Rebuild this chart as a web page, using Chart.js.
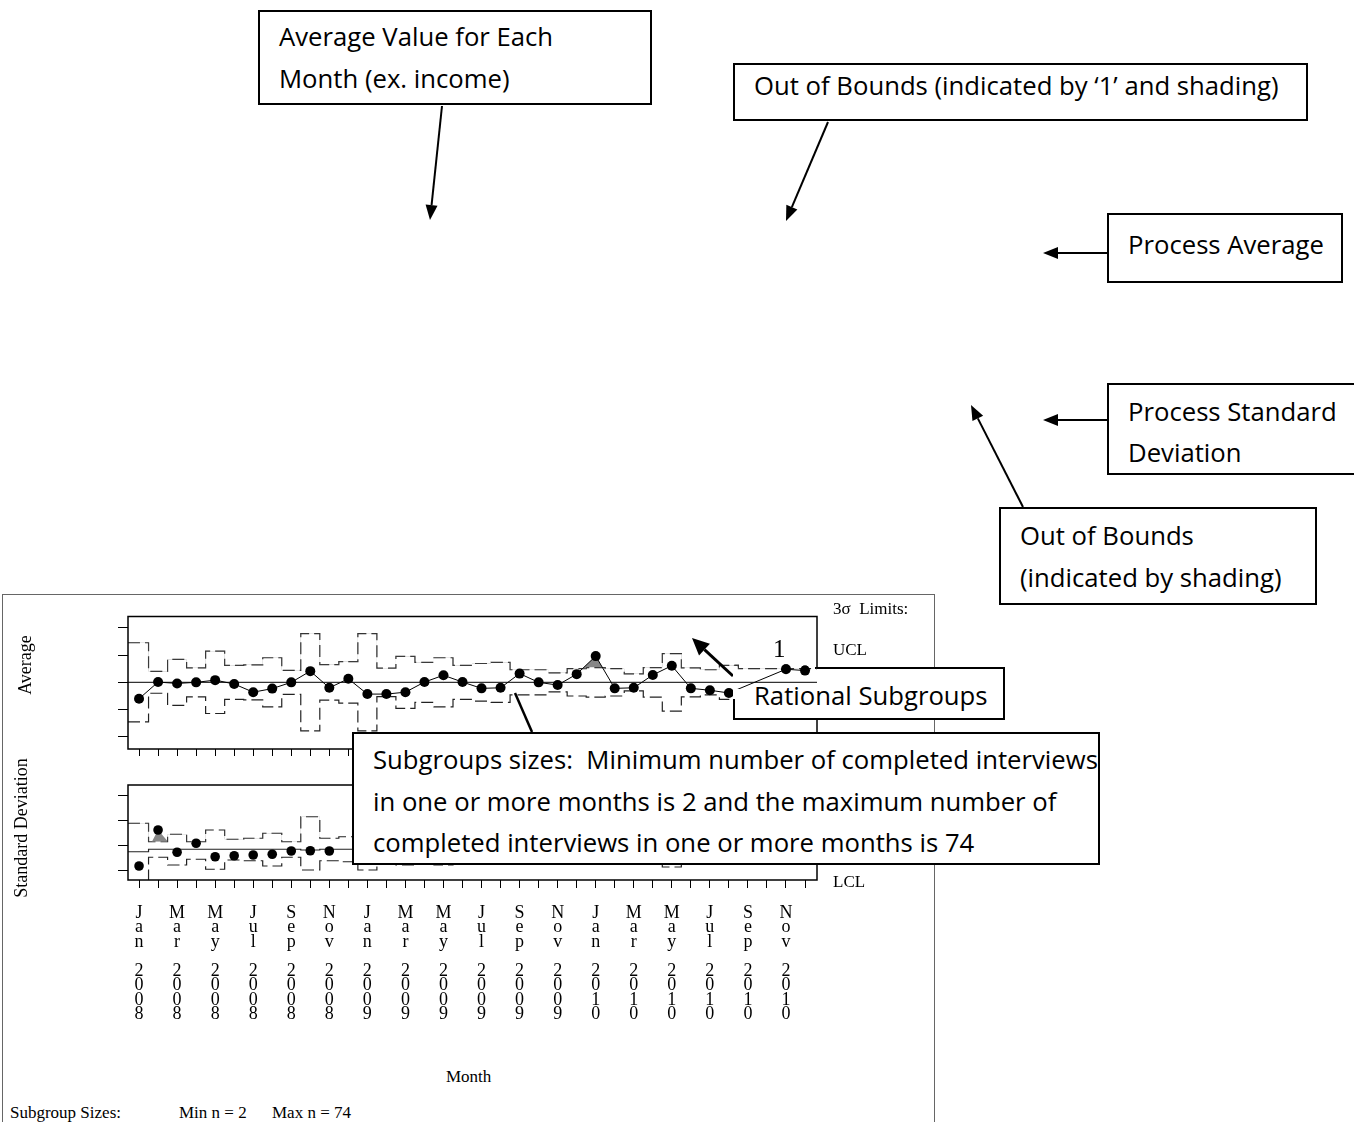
<!DOCTYPE html>
<html>
<head>
<meta charset="utf-8">
<title>Average and standard deviation control chart</title>
<script src="https://cdn.jsdelivr.net/npm/chart.js@4.4.1/dist/chart.umd.min.js"></script>
<style>
  html, body { margin: 0; padding: 0; background: #fff; }
  #page { position: relative; width: 1354px; height: 1122px; overflow: hidden; background: #fff; }
  canvas { position: absolute; }
  .serif { position: absolute; font-family: "Liberation Serif", "Times New Roman", serif; font-size: 17px; color: #000; white-space: pre; transform: translateY(-50%); }
  .vert { position: absolute; font-family: "Liberation Serif", "Times New Roman", serif; font-size: 18px; color: #000; white-space: nowrap; transform: translate(-50%, -50%) rotate(-90deg); }
  .note { position: absolute; box-sizing: border-box; border: 2px solid #000; background: #fff; font-family: "Open Sans", sans-serif; font-size: 25.7px; line-height: 42px; padding-left: 19px; white-space: pre; color: #000; z-index: 3; }
  .edge { position: absolute; background: #000; z-index: 4; }
  #frame { position: absolute; left: 2px; top: 594px; width: 933px; height: 700px; border: 1.5px solid #666; box-sizing: border-box; }
  #arrows { position: absolute; left: 0; top: 0; z-index: 2; }
</style>
</head>
<body>
<div id="page">
  <div id="frame"></div>
  <canvas id="avgChart" width="940" height="165" style="left:0px;top:600px;"></canvas>
  <canvas id="sdChart" width="940" height="270" style="left:0px;top:770px;"></canvas>

  <div class="vert" style="left:25px;top:665px;">Average</div>
  <div class="vert" style="left:21px;top:828px;">Standard Deviation</div>
  <div class="serif" style="left:833px;top:609px;">3σ  Limits:</div>
  <div class="serif" style="left:833px;top:650px;">UCL</div>
  <div class="serif" style="left:833px;top:882px;">LCL</div>
  <div class="serif" style="left:446px;top:1077px;">Month</div>
  <div class="serif" style="left:10px;top:1113px;">Subgroup Sizes:</div>
  <div class="serif" style="left:179px;top:1113px;">Min n = 2</div>
  <div class="serif" style="left:272px;top:1113px;">Max n = 74</div>
  <div class="serif" style="left:773px;top:649px;font-size:25px;">1</div>

  <svg id="arrows" width="1354" height="1122"></svg>

  <div class="note" style="left:258px;top:10px;width:394px;height:95px;padding-top:4px;">Average Value for Each
Month (ex. income)</div>
  <div class="note" style="left:733px;top:63px;width:575px;height:58px;padding-top:0px;">Out of Bounds (indicated by ‘1’ and shading)</div>
  <div class="note" style="left:1107px;top:213px;width:236px;height:70px;padding-top:9px;">Process Average</div>
  <div class="note" style="left:1107px;top:383px;width:252px;height:92px;padding-top:6px;line-height:41px;">Process Standard
Deviation</div>
  <div class="note" style="left:999px;top:507px;width:318px;height:98px;padding-top:6px;">Out of Bounds
(indicated by shading)</div>
  <div class="note" style="left:733px;top:667px;width:272px;height:53px;padding-top:8px;padding-left:21px;border-top:none;border-left:none;">Rational Subgroups</div>
  <div class="edge" style="left:815px;top:667px;width:190px;height:2px;"></div>
  <div class="edge" style="left:733px;top:699px;width:2px;height:21px;"></div>
  <div class="note" style="left:352px;top:732px;width:748px;height:133px;padding-top:5px;line-height:41.5px;">Subgroups sizes:  Minimum number of completed interviews
in one or more months is 2 and the maximum number of
completed interviews in one or more months is 74</div>

  <!-- same average chart again, only the strip that shows above the Rational Subgroups box -->
  <canvas id="avgOverlay" width="940" height="165" style="left:0px;top:600px;z-index:4;clip-path:inset(55px 123px 76px 733px);"></canvas>
</div>

<script>
// months Jan 2008 .. Dec 2010
const months = [
  'Jan 2008', 'Feb 2008', 'Mar 2008', 'Apr 2008', 'May 2008', 'Jun 2008',
  'Jul 2008', 'Aug 2008', 'Sep 2008', 'Oct 2008', 'Nov 2008', 'Dec 2008',
  'Jan 2009', 'Feb 2009', 'Mar 2009', 'Apr 2009', 'May 2009', 'Jun 2009',
  'Jul 2009', 'Aug 2009', 'Sep 2009', 'Oct 2009', 'Nov 2009', 'Dec 2009',
  'Jan 2010', 'Feb 2010', 'Mar 2010', 'Apr 2010', 'May 2010', 'Jun 2010',
  'Jul 2010', 'Aug 2010', 'Sep 2010', 'Oct 2010', 'Nov 2010', 'Dec 2010'
];

// average chart (units relative to the process average)
const avgValues = [
  -0.60, 0.01, -0.04, 0.00, 0.08, -0.06, -0.36, -0.23, 0.00, 0.41, -0.20, 0.13,
  -0.43, -0.43, -0.36, 0.01, 0.26, 0.01, -0.22, -0.20, 0.32, 0.00, -0.10, 0.30,
  0.96, -0.22, -0.20, 0.27, 0.61, -0.22, -0.29, -0.39, null, null, 0.48, 0.43
];
const avgUcl = [
  1.45, 0.40, 0.84, 0.53, 1.14, 0.62, 0.64, 0.90, 0.44, 1.78, 0.65, 0.76,
  1.78, 0.52, 0.95, 0.73, 0.90, 0.62, 0.69, 0.73, 0.46, 0.46, 0.35, 0.50,
  0.54, 0.50, 0.31, 0.54, 1.05, 0.53, 0.46, 0.62, 0.50, 0.50, 0.50, 0.50
];
const avgLcl = [
  -1.45, -0.40, -0.84, -0.53, -1.14, -0.62, -0.64, -0.90, -0.44, -1.78, -0.65, -0.76,
  -1.78, -0.52, -0.95, -0.73, -0.90, -0.62, -0.69, -0.73, -0.46, -0.46, -0.35, -0.50,
  -0.54, -0.50, -0.31, -0.54, -1.05, -0.53, -0.46, -0.62, -0.50, -0.50, -0.50, -0.50
];
const avgCenter = 0;
const avgTicks = [-2, -1, 0, 1, 2];

// standard deviation chart
const sdValues = [
  1.16, 2.60, 1.71, 2.07, 1.53, 1.57, 1.60, 1.63, 1.76, 1.77, 1.76, null,
  1.60, 1.85, 1.70, 1.95, 1.80, 1.75, 1.90, 1.85, 1.80, 1.70, 1.90, 1.85,
  2.00, 1.75, 1.80, 1.90, 1.65, 1.80, 1.75, 1.85, null, null, 1.80, 1.85
];
const sdUcl = [
  2.87, 2.13, 2.43, 2.13, 2.60, 2.23, 2.27, 2.47, 2.13, 3.13, 2.27, 2.33,
  3.13, 2.20, 2.45, 2.35, 2.45, 2.27, 2.30, 2.35, 2.18, 2.15, 2.10, 2.20,
  2.20, 2.20, 2.10, 2.20, 2.55, 2.20, 2.15, 2.25, 2.18, 2.18, 2.18, 2.18
];
const sdLcl = [
  0.00, 1.51, 1.20, 1.43, 1.03, 1.40, 1.37, 1.16, 1.51, 1.00, 1.37, 1.33,
  1.00, 1.45, 1.20, 1.30, 1.20, 1.38, 1.35, 1.30, 1.47, 1.50, 1.55, 1.45,
  1.45, 1.45, 1.55, 1.45, 1.12, 1.45, 1.50, 1.40, 1.47, 1.47, 1.47, 1.47
];
const sdCenter = [
  1.73, 1.83, 1.83, 1.83, 1.83, 1.83, 1.83, 1.83, 1.83, 1.80, 1.83, 1.83,
  1.80, 1.83, 1.83, 1.83, 1.83, 1.83, 1.83, 1.83, 1.83, 1.83, 1.83, 1.83,
  1.83, 1.83, 1.83, 1.83, 1.83, 1.83, 1.83, 1.83, 1.83, 1.83, 1.83, 1.83
];
const sdTicks = [1, 2, 3, 4];

const X_MIN = -0.58, X_MAX = 35.63;
const SHADE = 'rgb(135,135,135)';
const LIMIT_DASH = [12, 5];

function points(arr) {
  return arr.map((v, i) => ({x: i, y: v}));
}

// step line stretched to both edges of the plot
function stepPoints(arr) {
  return [{x: X_MIN, y: arr[0]}].concat(points(arr), [{x: X_MAX, y: arr[arr.length - 1]}]);
}

function monthLabel(value) {
  if (value % 2 !== 0) return '';
  const parts = months[value].split(' ');
  return parts[0].split('').concat([''], parts[1].split(''));
}

const framePlugin = {
  id: 'frame',
  afterDraw(chart) {
    const a = chart.chartArea;
    const ctx = chart.ctx;
    ctx.save();
    ctx.strokeStyle = '#000';
    ctx.lineWidth = 1.5;
    ctx.strokeRect(a.left, a.top, a.right - a.left, a.bottom - a.top);
    ctx.restore();
  }
};

function xScale(showLabels, tickLength, height) {
  return {
    type: 'linear',
    min: X_MIN,
    max: X_MAX,
    afterBuildTicks: (s) => { s.ticks = months.map((m, i) => ({value: i})); },
    afterFit: (s) => { s.height = height; },
    grid: {drawOnChartArea: false, drawTicks: true, tickLength: tickLength, color: '#000', lineWidth: 1},
    border: {display: false},
    ticks: {
      display: showLabels,
      autoSkip: false,
      maxRotation: 0,
      minRotation: 0,
      padding: 18,
      color: '#000',
      font: {family: '"Liberation Serif", "Times New Roman", serif', size: 18, lineHeight: '14.5px'},
      callback: (value) => monthLabel(value)
    }
  };
}

function yScale(min, max, tickValues) {
  return {
    min: min,
    max: max,
    afterBuildTicks: (s) => { s.ticks = tickValues.map(v => ({value: v})); },
    afterFit: (s) => { s.width = 10; },
    grid: {drawOnChartArea: false, drawTicks: true, tickLength: 10, color: '#000', lineWidth: 1},
    border: {display: false},
    ticks: {display: false}
  };
}

function limitSet(arr) {
  return {
    data: stepPoints(arr),
    stepped: 'middle',
    borderColor: '#222',
    borderWidth: 1.2,
    borderDash: LIMIT_DASH,
    pointRadius: 0,
    fill: false
  };
}

const baseOptions = {
  responsive: false,
  animation: false,
  devicePixelRatio: 1,
  events: [],
  plugins: {legend: {display: false}, tooltip: {enabled: false}}
};

function avgConfig(withFrame) {
  return {
    type: 'line',
    data: {
      datasets: [
        {
          data: points(avgValues),
          borderColor: '#000',
          borderWidth: 1,
          pointRadius: 5,
          pointBorderWidth: 0,
          pointBackgroundColor: '#000',
          spanGaps: true,
          fill: {target: 1, above: SHADE, below: 'rgba(0,0,0,0)'}
        },
        limitSet(avgUcl),
        limitSet(avgLcl),
        {
          data: [{x: X_MIN, y: avgCenter}, {x: X_MAX, y: avgCenter}],
          borderColor: '#333',
          borderWidth: 1.3,
          pointRadius: 0,
          fill: false
        }
      ]
    },
    options: Object.assign({}, baseOptions, {
      layout: {padding: {left: 118, right: 123, top: 16.5, bottom: 9}},
      scales: {
        x: xScale(false, 7, 7),
        y: yScale(-2.44, 2.41, avgTicks)
      }
    }),
    plugins: withFrame ? [framePlugin] : []
  };
}

new Chart(document.getElementById('avgChart'), avgConfig(true));
new Chart(document.getElementById('avgOverlay'), avgConfig(false));

new Chart(document.getElementById('sdChart'), {
  type: 'line',
  data: {
    datasets: [
      {
        data: points(sdValues),
        borderWidth: 0,
        borderColor: 'rgba(0,0,0,0)',
        pointRadius: 4.8,
        pointBorderWidth: 0,
        pointBackgroundColor: '#000',
        fill: {target: 1, above: SHADE, below: 'rgba(0,0,0,0)'}
      },
      limitSet(sdUcl),
      limitSet(sdLcl),
      {
        data: stepPoints(sdCenter),
        stepped: 'middle',
        borderColor: '#222',
        borderWidth: 1.2,
        pointRadius: 0,
        fill: false
      }
    ]
  },
  options: Object.assign({}, baseOptions, {
    layout: {padding: {left: 118, right: 123, top: 15, bottom: 10}},
    scales: {
      x: xScale(true, 8, 150),
      y: yScale(0.6, 4.4, sdTicks)
    }
  }),
  plugins: [framePlugin]
});

// annotation arrows
const svg = document.getElementById('arrows');
const NS = 'http://www.w3.org/2000/svg';

function arrow(x1, y1, x2, y2, width, head, headWidth) {
  const dx = x2 - x1, dy = y2 - y1;
  const len = Math.hypot(dx, dy);
  const ux = dx / len, uy = dy / len;
  const bx = head ? x2 - ux * head : x2;
  const by = head ? y2 - uy * head : y2;
  const line = document.createElementNS(NS, 'line');
  line.setAttribute('x1', x1); line.setAttribute('y1', y1);
  line.setAttribute('x2', bx); line.setAttribute('y2', by);
  line.setAttribute('stroke', '#000');
  line.setAttribute('stroke-width', width);
  svg.appendChild(line);
  if (head) {
    const hw = headWidth / 2;
    const poly = document.createElementNS(NS, 'polygon');
    poly.setAttribute('points', [
      x2 + ',' + y2,
      (bx - uy * hw) + ',' + (by + ux * hw),
      (bx + uy * hw) + ',' + (by - ux * hw)
    ].join(' '));
    poly.setAttribute('fill', '#000');
    svg.appendChild(poly);
  }
}

arrow(442, 106, 430, 220, 2, 15, 12);
arrow(828, 122, 786, 221, 2, 15, 12);
arrow(1107, 253, 1043, 253, 2, 15, 12);
arrow(1107, 420, 1043, 420, 2, 15, 12);
arrow(1023, 507, 971, 405, 2, 15, 12);
arrow(733, 676, 692, 638, 3, 17, 16);
arrow(532, 732, 515, 693, 2.5, 0, 0);
</script>
</body>
</html>
